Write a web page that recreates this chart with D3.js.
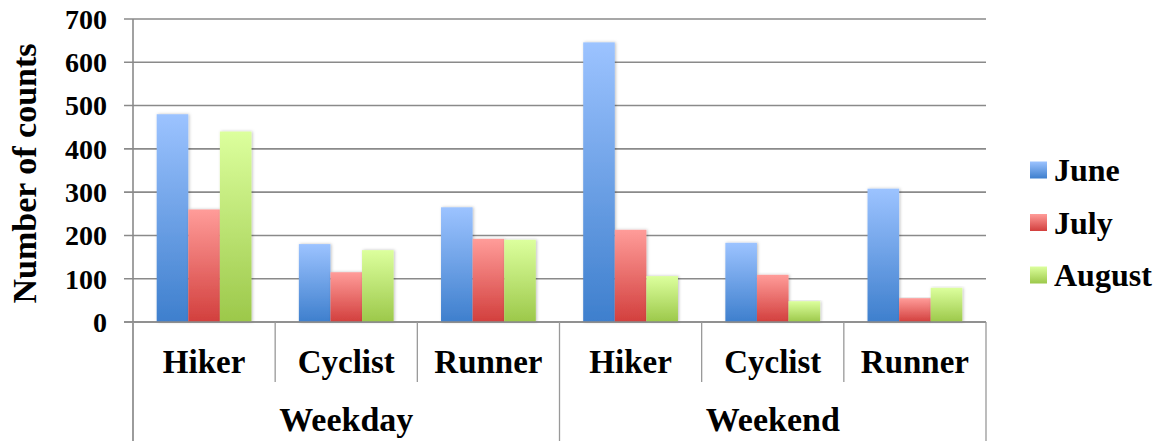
<!DOCTYPE html>
<head>
  <meta charset="utf-8">
  <script src="https://d3js.org/d3.v7.min.js"></script>
  <style>
    body { margin: 0; background: #fff; }
    text { font-family: "Liberation Serif", "DejaVu Serif", serif; font-weight: bold; fill: #000; }
  </style>
</head>
<body>
  <div id="chart"></div>
  <script>
    // data
    var groups = ["Weekday", "Weekend"];
    var activities = ["Hiker", "Cyclist", "Runner"];
    var months = ["June", "July", "August"];
    var june   = [480, 180, 265, 646, 183, 308];
    var july   = [260, 115, 192, 213, 109, 55];
    var august = [440, 166, 190, 106, 48, 79];
    var yTicks = [0, 100, 200, 300, 400, 500, 600, 700];

    var width = 1161, height = 441;
    var margin = {left: 133, right: 175, top: 19, bottom: 119};

    var svg = d3.select("#chart").append("svg")
      .attr("width", width)
      .attr("height", height);

    var defs = svg.append("defs");
    var grads = [["#9cc3ff", "#3e7fcd"], ["#ff9c99", "#d23f3d"], ["#dcff9d", "#9cc84a"]];
    grads.forEach(function(g, i) {
      var lg = defs.append("linearGradient").attr("id", "g" + i)
        .attr("x1", 0).attr("y1", 0).attr("x2", 0).attr("y2", 1);
      lg.append("stop").attr("offset", "0%").attr("stop-color", g[0]);
      lg.append("stop").attr("offset", "100%").attr("stop-color", g[1]);
    });
    var shadow = defs.append("filter").attr("id", "sh").attr("x", "-20%").attr("y", "-5%").attr("width", "140%").attr("height", "110%");
    shadow.append("feDropShadow").attr("dx", 1).attr("dy", 0).attr("stdDeviation", 1.5).attr("flood-color", "#000").attr("flood-opacity", 0.25);

    // one slot per group/activity pair
    var cats = [];
    groups.forEach(function(g) {
      activities.forEach(function(a) { cats.push(g + "|" + a); });
    });
    var rows = cats.map(function(c, i) {
      return {cat: c, values: [june[i], july[i], august[i]]};
    });

    var x0 = d3.scaleBand().domain(cats).range([margin.left, width - margin.right]);
    var x1 = d3.scaleBand().domain(months).range([0, x0.bandwidth()]).paddingInner(0).paddingOuter(0.75);
    var y = d3.scaleLinear().domain([0, 700]).range([height - margin.bottom, margin.top]);

    var x0Pos = y(0);

    // gridlines
    svg.append("g").selectAll("line").data(yTicks).enter().append("line")
      .attr("x1", margin.left - 9).attr("x2", width - margin.right)
      .attr("y1", function(d) { return y(d); }).attr("y2", function(d) { return y(d); })
      .attr("stroke", "#8a8a8a").attr("stroke-width", 1.6);

    // y axis line
    svg.append("line")
      .attr("x1", margin.left).attr("x2", margin.left)
      .attr("y1", margin.top).attr("y2", height)
      .attr("stroke", "#8a8a8a").attr("stroke-width", 1.6);

    // y tick labels
    svg.append("g").selectAll("text").data(yTicks).enter().append("text")
      .attr("x", 107).attr("y", function(d) { return y(d); })
      .attr("dy", "0.35em").attr("text-anchor", "end")
      .style("font-size", "28px")
      .text(function(d) { return d; });

    // y title
    svg.append("text")
      .attr("transform", "translate(36," + (margin.top + (y(0) - margin.top) / 2 + 3) + ") rotate(-90)")
      .attr("text-anchor", "middle")
      .style("font-size", "34px")
      .text("Number of counts");

    // bars
    var cg = svg.append("g").selectAll("g").data(rows).enter().append("g")
      .attr("transform", function(d) { return "translate(" + x0(d.cat) + ",0)"; });
    cg.selectAll("rect").data(function(d) { return d.values; }).enter().append("rect")
      .attr("x", function(d, i) { return x1(months[i]); })
      .attr("width", x1.bandwidth())
      .attr("y", function(d) { return y(d); })
      .attr("height", function(d) { return y(0) - y(d); })
      .attr("fill", function(d, i) { return "url(#g" + i + ")"; })
      .attr("filter", "url(#sh)");

    // x axis line and dividers
    svg.append("line")
      .attr("x1", margin.left - 9).attr("x2", width - margin.right)
      .attr("y1", x0Pos).attr("y2", x0Pos)
      .attr("stroke", "#8a8a8a").attr("stroke-width", 1.6);

    var edges = cats.map(function(c) { return x0(c); }).concat([width - margin.right]);
    svg.append("g").selectAll("line").data(edges).enter().append("line")
      .attr("x1", function(d) { return d; }).attr("x2", function(d) { return d; })
      .attr("y1", x0Pos)
      .attr("y2", function(d, i) { return i % 3 === 0 ? height : x0Pos + 60; })
      .attr("stroke", "#999").attr("stroke-width", 1.3);

    // category labels
    svg.append("g").selectAll("text").data(cats).enter().append("text")
      .attr("x", function(d) { return x0(d) + x0.bandwidth() / 2; })
      .attr("y", 373)
      .attr("text-anchor", "middle")
      .style("font-size", "33px")
      .text(function(d) { return d.split("|")[1]; });

    svg.append("g").selectAll("text").data(groups).enter().append("text")
      .attr("x", function(d, i) { return x0(cats[i * 3]) + x0.bandwidth() * 1.5; })
      .attr("y", 431)
      .attr("text-anchor", "middle")
      .style("font-size", "34px")
      .text(function(d) { return d; });

    // legend
    var lg = svg.append("g").selectAll("g").data(months).enter().append("g")
      .attr("transform", function(d, i) { return "translate(1030," + (170 + i * 52.5) + ")"; });
    lg.append("rect").attr("x", 0).attr("y", -8.5).attr("width", 17).attr("height", 17)
      .attr("fill", function(d, i) { return "url(#g" + i + ")"; });
    lg.append("text").attr("x", 24).attr("dy", "0.35em")
      .style("font-size", "32px")
      .text(function(d) { return d; });
  </script>
</body>
